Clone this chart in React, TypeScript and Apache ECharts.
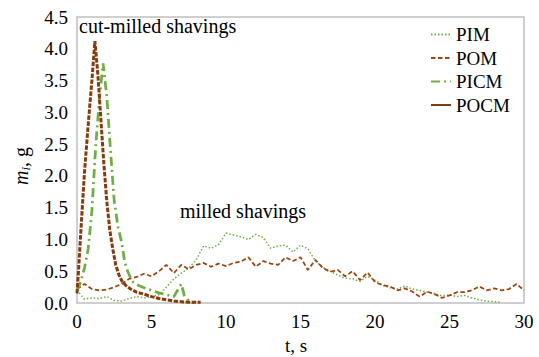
import React, { useEffect, useRef } from "react";
import * as echarts from "echarts";

// Time grid (s) for milled shavings
const MILLED_T: number[] = Array.from({ length: 61 }, (_, i) => i * 0.5);

const PIM_V = [
  0.2, 0.06, 0.08, 0.07, 0.1, 0.04, 0.03, 0.07, 0.1, 0.08, 0.1, 0.13, 0.25, 0.38, 0.47, 0.55,
  0.68, 0.9, 0.86, 0.92, 1.1, 1.07, 1.04, 1.0, 1.08, 1.03, 0.86, 0.9, 0.91, 0.8, 0.91, 0.85,
  0.66, 0.56, 0.5, 0.44, 0.39, 0.38, 0.34, 0.42, 0.36, 0.28, 0.24, 0.22, 0.27, 0.22, 0.2, 0.17,
  0.15, 0.11, 0.13, 0.1, 0.12, 0.08, 0.05, 0.03, 0.02, 0.01,
];

const POM_V = [
  0.22, 0.3, 0.22, 0.2, 0.21, 0.25, 0.3, 0.38, 0.41, 0.46, 0.42, 0.5, 0.6, 0.47, 0.6, 0.53,
  0.6, 0.63, 0.57, 0.62, 0.58, 0.63, 0.65, 0.72, 0.57, 0.66, 0.62, 0.6, 0.72, 0.66, 0.72, 0.52,
  0.68, 0.55, 0.49, 0.52, 0.42, 0.5, 0.36, 0.48, 0.33, 0.28, 0.26, 0.2, 0.23, 0.18, 0.1, 0.18,
  0.14, 0.08, 0.12, 0.17, 0.17, 0.2, 0.26, 0.2, 0.23, 0.2, 0.22, 0.3, 0.2,
];

const PICM_T = [0, 0.25, 0.5, 0.75, 1.0, 1.25, 1.5, 1.75, 2.0, 2.25, 2.5, 2.75, 3.0, 3.2, 3.4, 3.7, 4.0, 4.5, 5.0, 5.5, 6.0, 6.5, 6.8, 7.0, 7.2, 7.5, 7.8];
const PICM_V = [0.2, 0.33, 0.55, 0.85, 1.45, 2.45, 3.2, 3.77, 3.25, 2.4, 1.6, 1.2, 0.95, 0.65, 0.5, 0.34, 0.29, 0.24, 0.2, 0.16, 0.13, 0.1, 0.22, 0.3, 0.12, 0.03, 0.0];

const POCM_T = [0, 0.1, 0.25, 0.5, 0.75, 1.0, 1.2, 1.4, 1.6, 1.8, 2.0, 2.2, 2.4, 2.6, 2.8, 3.0, 3.3, 3.6, 4.0, 4.5, 5.0, 5.5, 6.0, 6.5, 7.0, 7.5, 8.0, 8.3];
const POCM_V = [0.15, 0.5, 1.1, 2.05, 2.8, 3.5, 4.12, 3.6, 2.9, 2.2, 1.6, 1.15, 0.85, 0.6, 0.45, 0.35, 0.27, 0.22, 0.17, 0.14, 0.1, 0.07, 0.05, 0.03, 0.02, 0.01, 0.01, 0.01];

const X_TICKS = [0, 5, 10, 15, 20, 25, 30];
const Y_TICKS = [0, 0.5, 1, 1.5, 2, 2.5, 3, 3.5, 4, 4.5];

const GREEN = "#70ad47";
const BROWN = "#843c0c";
const BROWN2 = "#9a4512";
const FONT = "Liberation Serif";

const pairs = (t: number[], v: number[]) => v.map((y, i) => [t[i], y]);

export default function App() {
  const ref = useRef<HTMLDivElement>(null);
  useEffect(() => {
    if (!ref.current) return;
    document.body.style.margin = "0";
    const chart = echarts.init(ref.current, undefined, { renderer: "svg" });
    chart.setOption({
      animation: false,
      textStyle: { fontFamily: FONT },
      grid: {
        left: 77,
        right: 15,
        top: 17,
        bottom: 54,
        show: true,
        borderColor: "#c0c0c0",
        borderWidth: 1.5,
      },
      xAxis: {
        type: "value",
        min: X_TICKS[0],
        max: X_TICKS[X_TICKS.length - 1],
        interval: 5,
        axisLine: { show: false },
        axisTick: { show: false },
        splitLine: { show: false },
        axisLabel: { color: "#000", fontFamily: FONT, fontSize: 19, margin: 9 },
      },
      yAxis: {
        type: "value",
        min: Y_TICKS[0],
        max: Y_TICKS[Y_TICKS.length - 1],
        interval: 0.5,
        axisLine: { show: false },
        axisTick: { show: false },
        splitLine: { show: false },
        axisLabel: {
          color: "#000",
          fontFamily: FONT,
          fontSize: 19,
          margin: 9,
          formatter: (v: number) => v.toFixed(1),
        },
      },
      legend: {
        orient: "vertical",
        left: 430,
        top: 25,
        itemWidth: 20,
        itemHeight: 14,
        itemGap: 4.5,
        padding: 0,
        itemStyle: { color: "transparent", borderWidth: 0, opacity: 0 },
        textStyle: { color: "#000", fontFamily: FONT, fontSize: 19 },
        data: [
          { name: "PIM" },
          { name: "POM" },
          { name: "PICM" },
          { name: "POCM", lineStyle: { type: "solid" } },
        ],
      },
      graphic: [
        {
          type: "text",
          x: 79,
          y: 16,
          style: { text: "cut-milled shavings", fontFamily: FONT, fontSize: 20, fill: "#000" },
        },
        {
          type: "text",
          x: 180,
          y: 201,
          style: { text: "milled shavings", fontFamily: FONT, fontSize: 20, fill: "#000" },
        },
        {
          type: "text",
          x: 285,
          y: 336,
          style: { text: "t, s", fontFamily: FONT, fontSize: 19, fill: "#000" },
        },
        {
          type: "text",
          x: 21,
          y: 166,
          rotation: Math.PI / 2,
          style: {
            text: "{m|m}{s|i}{n|, g}",
            fontFamily: FONT,
            fill: "#000",
            align: "center",
            verticalAlign: "middle",
            rich: {
              m: { fontFamily: FONT, fontStyle: "italic", fontSize: 20, lineHeight: 22, fill: "#000" },
              s: { fontFamily: FONT, fontStyle: "italic", fontSize: 13, lineHeight: 13, verticalAlign: "bottom", fill: "#000" },
              n: { fontFamily: FONT, fontSize: 20, lineHeight: 22, fill: "#000" },
            },
          },
        },
      ],
      series: [
        {
          name: "PIM",
          type: "line",
          symbol: "none",
          data: pairs(MILLED_T, PIM_V),
          lineStyle: { color: GREEN, width: 1.5, type: [1.5, 2] },
          itemStyle: { color: GREEN },
        },
        {
          name: "POM",
          type: "line",
          symbol: "none",
          data: pairs(MILLED_T, POM_V),
          lineStyle: { color: BROWN2, width: 1.75, type: [4.5, 2.5] },
          itemStyle: { color: BROWN2 },
        },
        {
          name: "PICM",
          type: "line",
          symbol: "none",
          data: pairs(PICM_T, PICM_V),
          lineStyle: { color: GREEN, width: 2.75, type: [9, 4, 2, 4] },
          itemStyle: { color: GREEN },
        },
        {
          name: "POCM",
          type: "line",
          symbol: "none",
          data: pairs(POCM_T, POCM_V),
          lineStyle: { color: BROWN, width: 3, type: [4.5, 1.5] },
          itemStyle: { color: BROWN },
        },
      ],
    });
    return () => chart.dispose();
  }, []);
  return <div ref={ref} style={{ width: 539, height: 357 }} />;
}
